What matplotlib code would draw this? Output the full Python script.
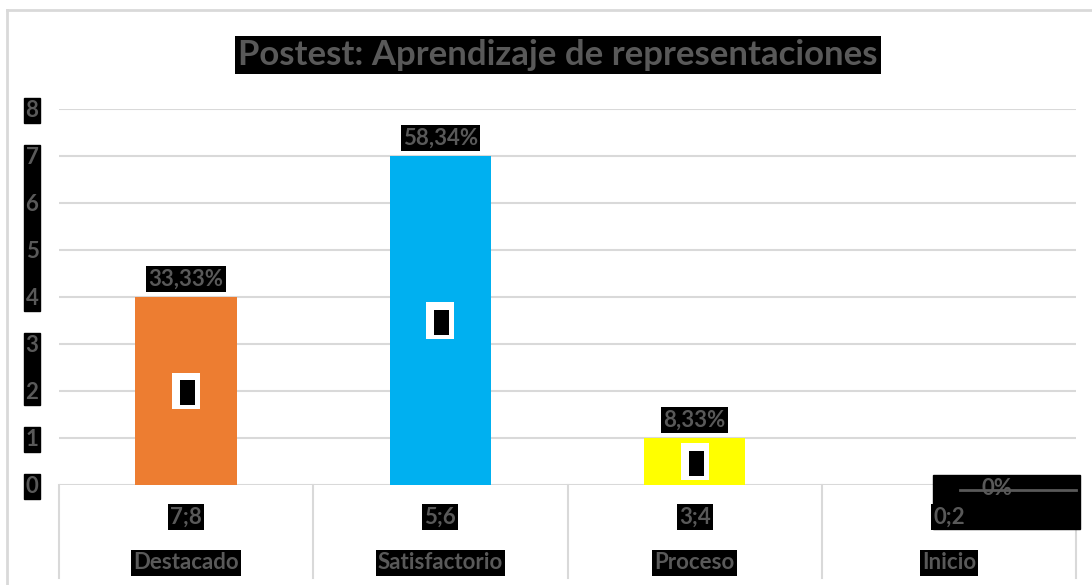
import matplotlib
matplotlib.use("Agg")
import matplotlib.pyplot as plt
from matplotlib.patches import Rectangle
from matplotlib.lines import Line2D
from matplotlib.offsetbox import DrawingArea, AnnotationBbox

# Data
categories = ["Destacado", "Satisfactorio", "Proceso", "Inicio"]
ranges = ["7;8", "5;6", "3;4", "0;2"]
counts = [4, 7, 1, 0]
percent_labels = ["33,33%", "58,34%", "8,33%", "0%"]
bar_colors = ["#ED7D31", "#00B0F0", "#FFFF00", "#A5A5A5"]
y_ticks = [0, 1, 2, 3, 4, 5, 6, 7, 8]

TXT = "#595959"
GRID = "#D9D9D9"
FONT = "Lato"
FS = 16

plt.rcParams["font.family"] = [FONT, "DejaVu Sans"]
plt.rcParams["font.weight"] = "bold"

fig = plt.figure(figsize=(10.92, 5.85), dpi=100)
ax = fig.add_axes([59 / 1092, 1 - 485 / 585, (1076 - 59) / 1092, (485 - 109) / 585])

x = list(range(len(categories)))
ax.bar(x, counts, width=0.4, color=bar_colors, zorder=3)
ax.set_xlim(-0.5, len(categories) - 0.5)
ax.set_ylim(0, 8)

# gridlines
for t in y_ticks:
    ax.axhline(t, color=GRID, lw=1.5, zorder=1)
for s in ax.spines.values():
    s.set_visible(False)
ax.set_xticks([])
ax.set_yticks([])

yt = ax.get_yaxis_transform()
xt = ax.get_xaxis_transform()

# y tick labels with black boxes (some merged)
groups = [(8, 8), (4, 7), (2, 3), (1, 1), (0, 0)]
for lo, hi in groups:
    ax.add_patch(Rectangle((-0.0344, lo - 0.30), 0.0157, (hi - lo) + 0.53,
                           transform=yt, color="black", clip_on=False, zorder=5))
for t in y_ticks:
    ax.text(-0.0265, t - 0.04, str(t), transform=yt, ha="center", va="center",
            fontsize=FS, color=TXT, zorder=6)

# category dividers (multi-level axis)
for i in range(len(categories) + 1):
    ax.plot([i - 0.5, i - 0.5], [0, -0.247], transform=xt, color=GRID, lw=1.5,
            clip_on=False, zorder=1)

# category labels
for i, (r, c) in enumerate(zip(ranges, categories)):
    ax.text(i, -0.085, r, transform=xt, ha="center", va="center", fontsize=FS,
            color=TXT, zorder=7,
            bbox=dict(boxstyle="square,pad=0.1", fc="black", ec="none"))
    ax.text(i, -0.207, c, transform=xt, ha="center", va="center", fontsize=FS,
            color=TXT, zorder=7,
            bbox=dict(boxstyle="square,pad=0.1", fc="black", ec="none"))

# data labels above bars
for i, (v, lab) in enumerate(zip(counts, percent_labels)):
    if v > 0:
        ax.annotate(lab, (i, v), xytext=(0, 13), textcoords="offset points",
                    ha="center", va="center", fontsize=FS, color=TXT, zorder=7,
                    bbox=dict(boxstyle="square,pad=0.1", fc="black", ec="none"))
        # empty inner label marker
        da = DrawingArea(20.2, 26.6, 0, 0)
        da.add_artist(Rectangle((0, 0), 20.2, 26.6, fc="white", ec="none"))
        da.add_artist(Rectangle((5.8, 2.9), 10.8, 18.0, fc="black", ec="none"))
        ab = AnnotationBbox(da, (i, v / 2), frameon=False, box_alignment=(0.5, 0.5),
                            pad=0, zorder=6)
        ax.add_artist(ab)
    else:
        # zero label: big black box with struck-through text
        ax.add_patch(Rectangle((i - 0.063, -0.117), 0.579, 0.144, transform=xt,
                               color="black", clip_on=False, zorder=5))
        ax.plot([i + 0.043, i + 0.5], [-0.013, -0.013], transform=xt, color=TXT,
                lw=2, clip_on=False, zorder=8)
        ax.text(i + 0.19, -0.01, lab, transform=xt, ha="center", va="center",
                fontsize=FS, color=TXT, zorder=7)

# title
fig.text(0.511, 1 - 55 / 585, "Postest: Aprendizaje de representaciones",
         ha="center", va="center", fontsize=25, color=TXT,
         bbox=dict(boxstyle="square,pad=0.1", fc="black", ec="none"))

# chart border
fig.add_artist(Line2D([7 / 1092, 1], [1 - 10 / 585, 1 - 10 / 585], color=GRID, lw=2))
fig.add_artist(Line2D([7 / 1092, 7 / 1092], [0, 1 - 10 / 585], color=GRID, lw=2))

fig.savefig("out.png", dpi=100)
